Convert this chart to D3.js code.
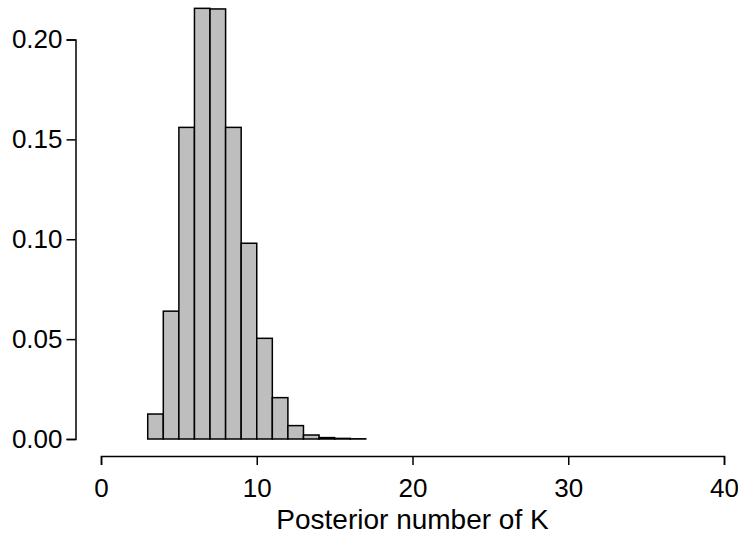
<!DOCTYPE html>
<html>
<head>
<meta charset="utf-8">
<script src="https://cdn.jsdelivr.net/npm/d3@7"></script>
<style>
  body { margin: 0; background: #fff; overflow: hidden; }
  svg { display: block; }
  text { font-family: "Liberation Sans", Arial, sans-serif; fill: #000; }
</style>
</head>
<body>
<div id="chart"></div>
<script>
// histogram of posterior K (bins of width 1)
var binStart = [3, 4, 5, 6, 7, 8, 9, 10, 11, 12, 13, 14, 15, 16];
var density = [0.0125, 0.064, 0.156, 0.2156, 0.2153, 0.156, 0.098, 0.0504, 0.0207, 0.0067, 0.002, 0.0007, 0.0003, 0.0001];
var xTicks = [0, 10, 20, 30, 40];
var yTicks = [0, 0.05, 0.10, 0.15, 0.20];

var width = 738, height = 535;

var svg = d3.select("#chart").append("svg")
  .attr("width", width)
  .attr("height", height);

var x = d3.scaleLinear().domain([0, 40]).range([101, 724]);
var y = d3.scaleLinear().domain([0, 0.20]).range([439, 39.5]);

// bars
svg.selectAll("rect.bar")
  .data(binStart)
  .enter()
  .append("rect")
  .attr("class", "bar")
  .attr("x", function(d) { return x(d); })
  .attr("y", function(d, i) { return y(density[i]); })
  .attr("width", function(d) { return x(d + 1) - x(d); })
  .attr("height", function(d, i) { return y(0) - y(density[i]); })
  .attr("fill", "#bebebe")
  .attr("stroke", "#000")
  .attr("stroke-width", 1.5);

// x axis
var gx = svg.append("g")
  .attr("transform", "translate(0,456)")
  .call(d3.axisBottom(x).tickValues(xTicks).tickSize(9).tickPadding(14).tickFormat(d3.format("d")));

// y axis
var gy = svg.append("g")
  .attr("transform", "translate(75.5,0)")
  .call(d3.axisLeft(y).tickValues(yTicks).tickSize(9).tickPadding(4).tickFormat(d3.format(".2f")));

[gx, gy].forEach(function(g) {
  g.attr("font-size", null).attr("font-family", null);
  g.select(".domain").attr("stroke-width", 1.5);
  g.selectAll(".tick line").attr("stroke-width", 1.5);
  g.selectAll("text").attr("font-size", 26).attr("fill", "#000");
});

// x label
svg.append("text")
  .attr("x", x(20))
  .attr("y", 529)
  .attr("text-anchor", "middle")
  .attr("font-size", 28)
  .text("Posterior number of K");
</script>
</body>
</html>
